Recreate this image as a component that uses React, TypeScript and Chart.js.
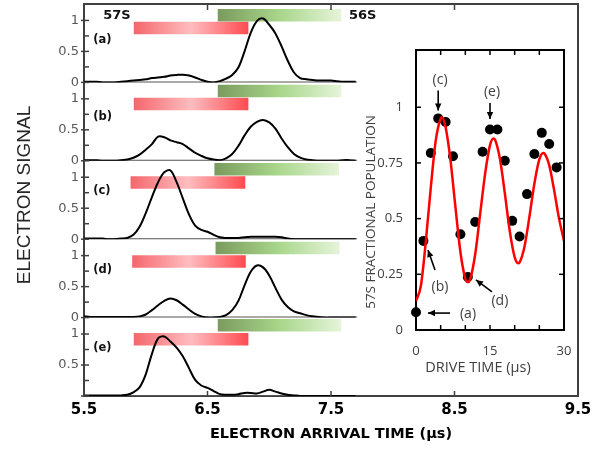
import React, { useEffect, useRef } from 'react';
import { Chart, registerables } from 'chart.js';

Chart.register(...registerables);

// ---------------- Main stacked panels: data ----------------
const arrivalTimes = [
  5.5, 5.55, 5.6, 5.65, 5.7, 5.75, 5.8, 5.85, 5.9, 5.95,
  6.0, 6.05, 6.1, 6.15, 6.2, 6.25, 6.3, 6.35, 6.4, 6.45,
  6.5, 6.55, 6.6, 6.65, 6.7, 6.75, 6.8, 6.85, 6.9, 6.95,
  7.0, 7.05, 7.1, 7.15, 7.2, 7.25, 7.3, 7.35, 7.4, 7.45,
  7.5, 7.55, 7.6, 7.65, 7.7,
];
const signalA = [
  0.01, 0.01, 0.01, 0.0, 0.0, 0.0, 0.01, 0.02, 0.03, 0.04,
  0.05, 0.07, 0.08, 0.09, 0.11, 0.12, 0.125, 0.11, 0.08, 0.04,
  0.01, 0.0, 0.02, 0.06, 0.12, 0.24, 0.5, 0.8, 0.99, 1.03,
  0.93, 0.79, 0.58, 0.35, 0.16, 0.07, 0.05, 0.04, 0.03, 0.03,
  0.03, 0.02, 0.01, 0.01, 0.01,
];
const signalB = [
  0.01, 0.01, 0.01, 0.0, 0.0, 0.0, 0.01, 0.02, 0.05, 0.1,
  0.18, 0.27, 0.39, 0.38, 0.33, 0.3, 0.27, 0.2, 0.13, 0.08,
  0.04, 0.02, 0.01, 0.04, 0.11, 0.24, 0.41, 0.55, 0.63, 0.66,
  0.62, 0.52, 0.36, 0.22, 0.11, 0.05, 0.02, 0.01, 0.0, 0.0,
  0.0, 0.0, 0.01, 0.01, 0.0,
];
const signalC = [
  0.01, 0.01, 0.01, 0.01, 0.0, 0.0, 0.01, 0.02, 0.07, 0.2,
  0.42, 0.68, 0.92, 1.08, 1.11, 0.92, 0.66, 0.4, 0.22, 0.15,
  0.12, 0.07, 0.03, 0.02, 0.02, 0.02, 0.03, 0.04, 0.04, 0.04,
  0.04, 0.04, 0.03, 0.01, 0.0, 0.0, 0.0, 0.0, 0.0, 0.0,
  0.0, 0.0, 0.0, 0.0, 0.0,
];
const signalD = [
  0.02, 0.01, 0.01, 0.01, 0.01, 0.01, 0.01, 0.01, 0.01, 0.02,
  0.05, 0.12, 0.2, 0.27, 0.31, 0.28, 0.21, 0.13, 0.06, 0.02,
  0.0, 0.0, 0.01, 0.04, 0.12, 0.27, 0.52, 0.74, 0.84, 0.81,
  0.68, 0.48, 0.29, 0.17, 0.1, 0.07, 0.04, 0.02, 0.01, 0.0,
  0.0, 0.0, 0.0, 0.0, 0.0,
];
const signalE = [
  0.01, 0.01, 0.01, 0.01, 0.01, 0.01, 0.01, 0.02, 0.06, 0.14,
  0.35, 0.68, 0.93, 0.96, 0.88, 0.78, 0.64, 0.45, 0.26, 0.17,
  0.13, 0.08, 0.03, 0.02, 0.02, 0.03, 0.05, 0.05, 0.04, 0.07,
  0.1, 0.07, 0.04, 0.02, 0.01, 0.0, 0.0, 0.0, 0.0, 0.0,
  0.0, 0.0, 0.0, 0.0, 0.0,
];
const panelNames = ['(a)', '(b)', '(c)', '(d)', '(e)'];
// 57S (red) and 56S (green) arrival windows, in µs
const redWindowStart = [5.903, 5.903, 5.877, 5.89, 5.903];
const redWindowEnd = [6.831, 6.831, 6.806, 6.81, 6.831];
const greenWindowStart = [6.583, 6.583, 6.556, 6.565, 6.583];
const greenWindowEnd = [7.583, 7.583, 7.565, 7.57, 7.583];

const xTickValues = [5.5, 6.5, 7.5, 8.5, 9.5];
const panelTickValues = [0, 0.25, 0.5, 0.75, 1];
const panelTickLabels = ['0', '', '0.5', '', '1'];
const lastPanelTickLabels = ['', '', '0.5', '', '1'];

// ---------------- Inset: data ----------------
const driveTimes = [0, 1.5, 3, 4.5, 6, 7.5, 9, 10.5, 12, 13.5, 15, 16.5, 18, 19.5, 21, 22.5, 24, 25.5, 27, 28.5];
const population = [0.08, 0.4, 0.795, 0.95, 0.934, 0.78, 0.43, 0.238, 0.485, 0.8, 0.9, 0.9, 0.76, 0.49, 0.42, 0.61, 0.79, 0.885, 0.835, 0.73];
const fitTimes = [0, 1, 2, 3, 4, 5, 5.2, 6, 7, 8, 9, 10, 10.5, 11, 12, 13, 14, 15, 15.7, 16, 17, 18, 19, 20, 20.7, 21, 22, 23, 24, 25, 25.8, 26, 27, 28, 29, 30];
const fitValues = [0.13, 0.2, 0.4, 0.64, 0.85, 0.95, 0.955, 0.91, 0.76, 0.55, 0.35, 0.23, 0.215, 0.23, 0.34, 0.52, 0.7, 0.83, 0.86, 0.855, 0.77, 0.615, 0.445, 0.327, 0.3, 0.304, 0.375, 0.51, 0.658, 0.766, 0.795, 0.793, 0.74, 0.628, 0.5, 0.4];
const insetXTicks = [0, 5, 10, 15, 20, 25, 30];
const insetXLabels = ['0', '', '', '15', '', '', '30'];
const insetYTicks = [0, 0.25, 0.5, 0.75, 1];
const insetYLabels = ['0', '0.25', '0.5', '0.75', '1'];

// ---------------- Layout / style (not data) ----------------
const W = 605;
const H = 449;
const PANEL_IDS = ['yA', 'yB', 'yC', 'yD', 'yE'];
const PANEL_MAX = 1.265;
const GREEN_LEVEL = [1.082, 1.125, 1.127, 1.121, 1.14];
const RED_LEVEL = [0.878, 0.916, 0.915, 0.905, 0.914];
const NAME_LEVEL = [0.685, 0.712, 0.78, 0.77, 0.78];
const FRAME = '#404040';
const BOLD = '"DejaVu Sans", Verdana, sans-serif';
const SANS = '"DejaVu Sans", sans-serif';
const INSET_FONT = '"Open Sans", "Noto Sans", sans-serif';
const RED_STOPS: [number, string][] = [[0, '#f4676c'], [0.5, '#ffbdc0'], [1, '#ff4a4f']];
const GREEN_STOPS: [number, string][] = [[0, '#7a9a5e'], [0.5, '#a8d68a'], [1, '#e6f4da']];
const INSET_NOTES = [
  { text: '(c)', tx: 4.87, ty: 1.123, x0: 4.5, y0: 1.075, x1: 4.5, y1: 0.985 },
  { text: '(e)', tx: 15.4, ty: 1.069, x0: 15.0, y0: 1.019, x1: 15.0, y1: 0.947 },
  { text: '(b)', tx: 4.87, ty: 0.193, x0: 3.85, y0: 0.269, x1: 2.43, y1: 0.359 },
  { text: '(d)', tx: 17.0, ty: 0.13, x0: 15.4, y0: 0.171, x1: 12.16, y1: 0.225 },
  { text: '(a)', tx: 10.54, ty: 0.072, x0: 6.9, y0: 0.076, x1: 2.43, y1: 0.076 },
];

function barGradient(chart: any, x0: number, x1: number, stops: [number, string][]) {
  const xs = chart.scales && chart.scales.x;
  if (!xs) return stops[0][1];
  const p0 = xs.getPixelForValue(x0);
  const p1 = xs.getPixelForValue(x1);
  if (!isFinite(p0) || !isFinite(p1) || p1 <= p0) return stops[0][1];
  const g = chart.ctx.createLinearGradient(p0, 0, p1, 0);
  stops.forEach(([o, c]) => g.addColorStop(o, c));
  return g;
}

function line(ctx: CanvasRenderingContext2D, x0: number, y0: number, x1: number, y1: number) {
  ctx.beginPath();
  ctx.moveTo(x0, y0);
  ctx.lineTo(x1, y1);
  ctx.stroke();
}

const mainDecor = {
  id: 'mainDecor',
  afterDraw(chart: any) {
    const { ctx, chartArea: a, scales } = chart;
    const xs = scales.x;
    ctx.save();
    ctx.strokeStyle = FRAME;
    ctx.lineWidth = 2;
    ctx.beginPath();
    ctx.moveTo(a.left, a.top);
    ctx.lineTo(a.right, a.top);
    ctx.lineTo(a.right, a.bottom);
    ctx.stroke();
    ctx.lineWidth = 1.5;
    xTickValues.forEach((v) => {
      const px = xs.getPixelForValue(v);
      line(ctx, px, a.top, px, a.top + 6);
      line(ctx, px, a.bottom, px, a.bottom - 5);
    });
    PANEL_IDS.forEach((id) => {
      const s = scales[id];
      panelTickValues.forEach((v, i) => {
        const py = s.getPixelForValue(v);
        const major = panelTickLabels[i] !== '';
        line(ctx, a.left - (major ? 3 : 0), py, a.left + 5, py);
      });
    });
    // labels
    ctx.fillStyle = '#111';
    ctx.textBaseline = 'middle';
    ctx.textAlign = 'left';
    ctx.font = `bold 13px ${BOLD}`;
    const yA = scales.yA;
    ctx.fillText('57S', xs.getPixelForValue(5.656), yA.getPixelForValue(1.07));
    ctx.fillText('56S', xs.getPixelForValue(7.645), yA.getPixelForValue(1.07));
    ctx.font = `bold 11.5px ${BOLD}`;
    PANEL_IDS.forEach((id, i) => {
      ctx.fillText(panelNames[i], xs.getPixelForValue(5.575), scales[id].getPixelForValue(NAME_LEVEL[i]));
    });
    // shared y title
    ctx.save();
    ctx.translate(24.5, 195);
    ctx.rotate(-Math.PI / 2);
    ctx.textAlign = 'center';
    ctx.fillStyle = '#262626';
    ctx.font = '19px "Liberation Sans", Arial, sans-serif';
    ctx.fillText('ELECTRON SIGNAL', 0, 0);
    ctx.restore();
    ctx.restore();
  },
};

function arrow(ctx: CanvasRenderingContext2D, x0: number, y0: number, x1: number, y1: number) {
  line(ctx, x0, y0, x1, y1);
  const ang = Math.atan2(y1 - y0, x1 - x0);
  const len = 7;
  const half = 3.2;
  const bx = x1 - len * Math.cos(ang);
  const by = y1 - len * Math.sin(ang);
  ctx.beginPath();
  ctx.moveTo(x1, y1);
  ctx.lineTo(bx + half * Math.sin(ang), by - half * Math.cos(ang));
  ctx.lineTo(bx - half * Math.sin(ang), by + half * Math.cos(ang));
  ctx.closePath();
  ctx.fill();
}

const insetDecor = {
  id: 'insetDecor',
  afterDraw(chart: any) {
    const { ctx, chartArea: a, scales } = chart;
    const xs = scales.x;
    const ys = scales.y;
    ctx.save();
    ctx.strokeStyle = '#000';
    ctx.lineWidth = 2;
    ctx.beginPath();
    ctx.moveTo(a.left, a.top);
    ctx.lineTo(a.right, a.top);
    ctx.lineTo(a.right, a.bottom);
    ctx.stroke();
    ctx.lineWidth = 1.5;
    insetXTicks.forEach((v) => {
      const px = xs.getPixelForValue(v);
      line(ctx, px, a.bottom, px, a.bottom - 5);
      line(ctx, px, a.top, px, a.top + 5);
    });
    insetYTicks.forEach((v) => {
      const py = ys.getPixelForValue(v);
      line(ctx, a.left, py, a.left + 5, py);
      line(ctx, a.right, py, a.right - 5, py);
    });
    // annotations
    ctx.fillStyle = '#000';
    ctx.strokeStyle = '#000';
    ctx.lineWidth = 1.6;
    INSET_NOTES.forEach((n) => {
      arrow(ctx, xs.getPixelForValue(n.x0), ys.getPixelForValue(n.y0), xs.getPixelForValue(n.x1), ys.getPixelForValue(n.y1));
    });
    ctx.fillStyle = '#404040';
    ctx.textAlign = 'center';
    ctx.textBaseline = 'middle';
    ctx.font = `14px ${INSET_FONT}`;
    INSET_NOTES.forEach((n) => {
      ctx.fillText(n.text, xs.getPixelForValue(n.tx), ys.getPixelForValue(n.ty));
    });
    // titles
    ctx.font = `14.5px ${INSET_FONT}`;
    ctx.fillStyle = '#404040';
    ctx.fillText('DRIVE TIME (µs)', a.left + 62, a.bottom + 38);
    ctx.font = `13.5px ${INSET_FONT}`;
    ctx.save();
    ctx.translate(a.left - 45, a.top + 162);
    ctx.rotate(-Math.PI / 2);
    ctx.fillText('57S FRACTIONAL POPULATION', 0, 0);
    ctx.restore();
    ctx.restore();
  },
};

function panelScale(i: number) {
  const labels = i === 4 ? lastPanelTickLabels : panelTickLabels;
  return {
    type: 'linear',
    position: 'left',
    stack: 'panels',
    stackWeight: 1,
    min: 0,
    max: PANEL_MAX,
    grid: { display: false, drawTicks: false },
    border: { display: true, color: FRAME, width: 2 },
    afterBuildTicks: (s: any) => {
      s.ticks = panelTickValues.map((v) => ({ value: v }));
    },
    ticks: {
      autoSkip: false,
      padding: 5,
      color: '#595959',
      font: { family: SANS, size: 13 },
      callback: (v: any) => {
        const k = panelTickValues.indexOf(Number(v));
        return k >= 0 ? labels[k] : '';
      },
    },
    afterFit: (s: any) => {
      s.width = 84;
      s.paddingTop = 0;
      s.paddingBottom = 0;
    },
  };
}

export default function App() {
  const mainRef = useRef<HTMLCanvasElement>(null);
  const insetRef = useRef<HTMLCanvasElement>(null);

  useEffect(() => {
    if (!mainRef.current || !insetRef.current) return;
    const signals = [signalA, signalB, signalC, signalD, signalE];
    const datasets: any[] = [];
    signals.forEach((sig, i) => {
      datasets.push({
        data: arrivalTimes.map((t, k) => ({ x: t, y: sig[k] })),
        yAxisID: PANEL_IDS[i],
        borderColor: '#000',
        borderWidth: 2,
        pointRadius: 0,
        tension: 0.35,
        order: 0,
      });
    });
    signals.forEach((_, i) => {
      datasets.push({
        data: [
          { x: arrivalTimes[0], y: 0 },
          { x: arrivalTimes[arrivalTimes.length - 1] + 0.01, y: 0 },
        ],
        yAxisID: PANEL_IDS[i],
        borderColor: '#555',
        borderWidth: 2,
        pointRadius: 0,
        order: 1,
      });
      datasets.push({
        data: [
          { x: greenWindowStart[i], y: GREEN_LEVEL[i] },
          { x: greenWindowEnd[i], y: GREEN_LEVEL[i] },
        ],
        yAxisID: PANEL_IDS[i],
        borderColor: (c: any) => barGradient(c.chart, greenWindowStart[i], greenWindowEnd[i], GREEN_STOPS),
        borderWidth: 12.5,
        borderCapStyle: 'butt',
        pointRadius: 0,
        order: 2,
      });
      datasets.push({
        data: [
          { x: redWindowStart[i], y: RED_LEVEL[i] },
          { x: redWindowEnd[i], y: RED_LEVEL[i] },
        ],
        yAxisID: PANEL_IDS[i],
        borderColor: (c: any) => barGradient(c.chart, redWindowStart[i], redWindowEnd[i], RED_STOPS),
        borderWidth: 12.5,
        borderCapStyle: 'butt',
        pointRadius: 0,
        order: 2,
      });
    });

    const scales: any = {
      x: {
        type: 'linear',
        position: 'bottom',
        min: 5.5,
        max: 9.5,
        grid: { display: false, drawTicks: false },
        border: { display: true, color: FRAME, width: 2 },
        afterBuildTicks: (s: any) => {
          s.ticks = xTickValues.map((v) => ({ value: v }));
        },
        ticks: {
          autoSkip: false,
          maxRotation: 0,
          padding: 5,
          color: '#000',
          font: { family: BOLD, size: 15, weight: 'bold' },
          callback: (v: any) => Number(v).toFixed(1),
        },
        title: {
          display: true,
          text: 'ELECTRON ARRIVAL TIME (µs)',
          color: '#000',
          font: { family: BOLD, size: 14.5, weight: 'bold' },
          padding: { top: 0, bottom: 6 },
        },
        afterFit: (s: any) => {
          s.height = 53;
          s.paddingLeft = 0;
          s.paddingRight = 0;
        },
      },
    };
    // defined bottom-to-top so that the first panel is placed on top
    for (let i = 4; i >= 0; i--) scales[PANEL_IDS[i]] = panelScale(i);

    const main = new Chart(mainRef.current, {
      type: 'line',
      data: { datasets },
      options: {
        responsive: false,
        maintainAspectRatio: false,
        animation: false,
        devicePixelRatio: 1,
        events: [],
        layout: { padding: { left: 0, top: 4, right: W - 578, bottom: 0 } },
        plugins: { legend: { display: false }, tooltip: { enabled: false } },
        scales,
      } as any,
      plugins: [mainDecor],
    });

    const inset = new Chart(insetRef.current, {
      type: 'line',
      data: {
        datasets: [
          {
            data: fitTimes.map((t, k) => ({ x: t, y: fitValues[k] })),
            borderColor: '#ff0000',
            borderWidth: 2.5,
            pointRadius: 0,
            cubicInterpolationMode: 'monotone',
            order: 0,
          },
          {
            data: driveTimes.map((t, k) => ({ x: t, y: population[k] })),
            showLine: false,
            pointRadius: 5,
            pointBackgroundColor: '#000',
            pointBorderColor: '#000',
            pointBorderWidth: 0,
            clip: false,
            order: 1,
          },
        ] as any,
      },
      options: {
        responsive: false,
        maintainAspectRatio: false,
        animation: false,
        devicePixelRatio: 1,
        events: [],
        layout: { padding: { left: 300, top: 50, right: W - 564, bottom: 0 } },
        plugins: { legend: { display: false }, tooltip: { enabled: false } },
        scales: {
          x: {
            type: 'linear',
            min: 0,
            max: 30,
            grid: { display: false, drawTicks: false },
            border: { display: true, color: '#000', width: 2 },
            afterBuildTicks: (s: any) => {
              s.ticks = insetXTicks.map((v) => ({ value: v }));
            },
            ticks: {
              autoSkip: false,
              maxRotation: 0,
              padding: 13,
              color: '#404040',
              font: { family: INSET_FONT, size: 13 },
              callback: (v: any) => {
                const k = insetXTicks.indexOf(Number(v));
                return k >= 0 ? insetXLabels[k] : '';
              },
            },
            afterFit: (s: any) => {
              s.height = H - 330;
            },
          },
          y: {
            type: 'linear',
            min: 0,
            max: 1.257,
            grid: { display: false, drawTicks: false },
            border: { display: true, color: '#000', width: 2 },
            afterBuildTicks: (s: any) => {
              s.ticks = insetYTicks.map((v) => ({ value: v }));
            },
            ticks: {
              autoSkip: false,
              padding: 13,
              color: '#404040',
              font: { family: INSET_FONT, size: 13 },
              callback: (v: any) => {
                const k = insetYTicks.indexOf(Number(v));
                return k >= 0 ? insetYLabels[k] : '';
              },
            },
            afterFit: (s: any) => {
              s.width = 116;
            },
          },
        },
      } as any,
      plugins: [insetDecor],
    });

    return () => {
      main.destroy();
      inset.destroy();
    };
  }, []);

  return (
    <div style={{ position: 'absolute', left: 0, top: 0, width: W, height: H, background: '#fff' }}>
      <canvas ref={mainRef} width={W} height={H} style={{ position: 'absolute', left: 0, top: 0 }} />
      <canvas ref={insetRef} width={W} height={H} style={{ position: 'absolute', left: 0, top: 0 }} />
    </div>
  );
}
